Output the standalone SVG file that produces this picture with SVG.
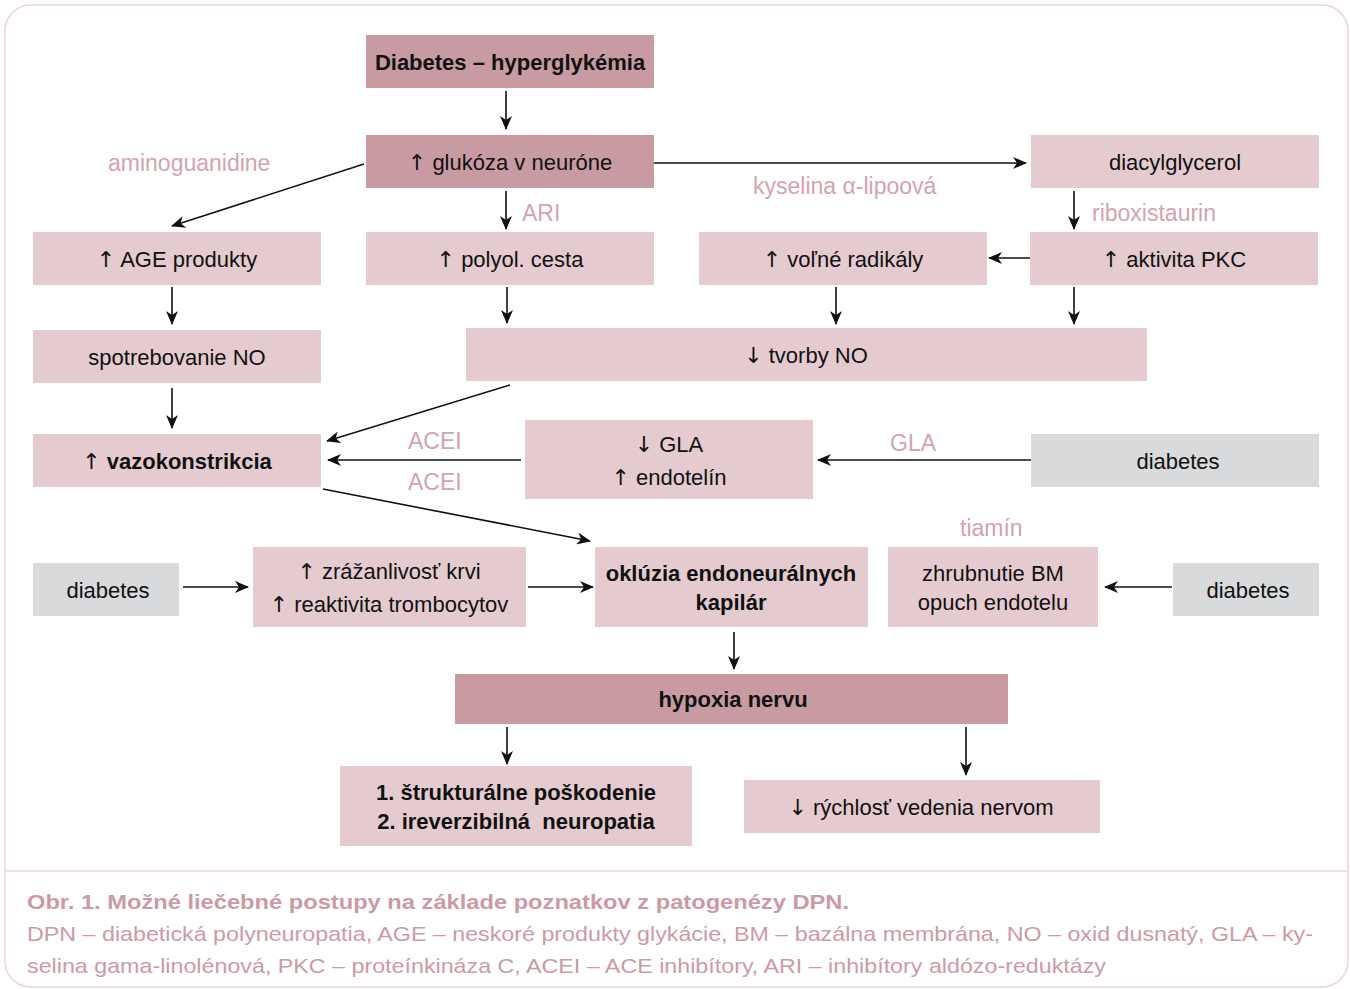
<svg xmlns="http://www.w3.org/2000/svg" width="1350" height="989" viewBox="0 0 1350 989">
<style>
.dark{fill:#c89ba3}
.light{fill:#e5cbd0}
.gray{fill:#d9dadc}
text{font-family:"Liberation Sans",Arial,sans-serif;font-size:22px;fill:#111;text-anchor:middle}
.b{font-weight:bold}
.ar{font-family:"DejaVu Sans",sans-serif;font-weight:normal;font-size:22px}
.lab{fill:#d3a3ae;text-anchor:start;font-size:23px}
.cap{fill:#cc9aa5;text-anchor:start;font-size:21px}
.con{stroke:#111;stroke-width:1.6;fill:none;marker-end:url(#ah)}
</style>
<defs>
<marker id="ah" markerWidth="14" markerHeight="12" refX="13" refY="6" orient="auto" markerUnits="userSpaceOnUse">
<path d="M0,0 L14,6 L0,12 L4,6 z" fill="#111"/>
</marker>
</defs>
<rect x="5" y="5" width="1343" height="982" rx="26" fill="#fff" stroke="#ecd3d9" stroke-width="1.5"/>
<line x1="5" y1="871" x2="1348" y2="871" stroke="#ecd3d9" stroke-width="1.5"/>

<g id="n-diabetes-hyper"><rect class="dark" x="366" y="35" width="288" height="53"/><text class="b" x="510" y="70">Diabetes – hyperglykémia</text></g>
<g id="n-glukoza"><rect class="dark" x="366" y="135" width="288" height="53"/><text x="510" y="170"><tspan class="ar">↑</tspan> glukóza v neuróne</text></g>
<g id="n-diacyl"><rect class="light" x="1031" y="135" width="288" height="53"/><text x="1175" y="170">diacylglycerol</text></g>
<g id="n-age"><rect class="light" x="33" y="232" width="288" height="53"/><text x="177" y="267"><tspan class="ar">↑</tspan> AGE produkty</text></g>
<g id="n-polyol"><rect class="light" x="366" y="232" width="288" height="53"/><text x="510" y="267"><tspan class="ar">↑</tspan> polyol. cesta</text></g>
<g id="n-radikaly"><rect class="light" x="699" y="232" width="288" height="53"/><text x="843" y="267"><tspan class="ar">↑</tspan> voľné radikály</text></g>
<g id="n-pkc"><rect class="light" x="1030" y="232" width="288" height="53"/><text x="1174" y="267"><tspan class="ar">↑</tspan> aktivita PKC</text></g>
<g id="n-spotreb"><rect class="light" x="33" y="330" width="288" height="53"/><text x="177" y="365">spotrebovanie NO</text></g>
<g id="n-tvorby"><rect class="light" x="466" y="328" width="681" height="53"/><text x="806" y="363"><tspan class="ar">↓</tspan> tvorby NO</text></g>
<g id="n-vazo"><rect class="light" x="33" y="434" width="288" height="53"/><text x="177" y="469"><tspan class="ar">↑</tspan> <tspan class="b">vazokonstrikcia</tspan></text></g>
<g id="n-gla"><rect class="light" x="525" y="420" width="288" height="79"/><text x="669" y="452"><tspan class="ar">↓</tspan> GLA</text><text x="669" y="485"><tspan class="ar">↑</tspan> endotelín</text></g>
<g id="n-diab1"><rect class="gray" x="1031" y="434" width="288" height="53"/><text x="1178" y="469">diabetes</text></g>
<g id="n-diab2"><rect class="gray" x="33" y="563" width="146" height="53"/><text x="108" y="598">diabetes</text></g>
<g id="n-zraz"><rect class="light" x="253" y="547" width="273" height="80"/><text x="389" y="579"><tspan class="ar">↑</tspan> zrážanlivosť krvi</text><text x="389" y="612"><tspan class="ar">↑</tspan> reaktivita trombocytov</text></g>
<g id="n-okluzia"><rect class="light" x="595" y="547" width="273" height="80"/><text class="b" x="731" y="581">oklúzia endoneurálnych</text><text class="b" x="731" y="610">kapilár</text></g>
<g id="n-zhrub"><rect class="light" x="888" y="547" width="210" height="80"/><text x="993" y="581">zhrubnutie BM</text><text x="993" y="610">opuch endotelu</text></g>
<g id="n-diab3"><rect class="gray" x="1173" y="563" width="146" height="53"/><text x="1248" y="598">diabetes</text></g>
<g id="n-hypoxia"><rect class="dark" x="455" y="674" width="553" height="50"/><text class="b" x="733" y="707">hypoxia nervu</text></g>
<g id="n-struk"><rect class="light" x="340" y="766" width="352" height="80"/><text class="b" x="516" y="800">1. štrukturálne poškodenie</text><text class="b" x="516" y="829" style="white-space:pre">2. ireverzibilná  neuropatia</text></g>
<g id="n-rychlost"><rect class="light" x="744" y="780" width="356" height="53"/><text x="921" y="815"><tspan class="ar">↓</tspan> rýchlosť vedenia nervom</text></g>

<g id="labels">
<text class="lab" x="108" y="171">aminoguanidine</text>
<text class="lab" x="753" y="194">kyselina α-lipoová</text>
<text class="lab" x="522" y="221">ARI</text>
<text class="lab" x="1092" y="221">riboxistaurin</text>
<text class="lab" x="408" y="449">ACEI</text>
<text class="lab" x="408" y="490">ACEI</text>
<text class="lab" x="890" y="451">GLA</text>
<text class="lab" x="960" y="536">tiamín</text>
</g>

<g id="connectors">
<line class="con" x1="506" y1="91" x2="506" y2="129"/>
<line class="con" x1="654" y1="163" x2="1026" y2="163"/>
<line class="con" x1="364" y1="164" x2="172" y2="226"/>
<line class="con" x1="506" y1="191" x2="506" y2="229"/>
<line class="con" x1="1074" y1="191" x2="1074" y2="229"/>
<line class="con" x1="1030" y1="258" x2="989" y2="258"/>
<line class="con" x1="172" y1="287" x2="172" y2="324"/>
<line class="con" x1="507" y1="287" x2="507" y2="323"/>
<line class="con" x1="836" y1="287" x2="836" y2="324"/>
<line class="con" x1="1074" y1="287" x2="1074" y2="324"/>
<line class="con" x1="172" y1="388" x2="172" y2="428"/>
<line class="con" x1="510" y1="385" x2="327" y2="441"/>
<line class="con" x1="521" y1="460" x2="328" y2="460"/>
<line class="con" x1="1031" y1="460" x2="818" y2="460"/>
<line class="con" x1="323" y1="489" x2="590" y2="541"/>
<line class="con" x1="183" y1="587" x2="248" y2="587"/>
<line class="con" x1="528" y1="587" x2="593" y2="587"/>
<line class="con" x1="1172" y1="587" x2="1105" y2="587"/>
<line class="con" x1="734" y1="632" x2="734" y2="669"/>
<line class="con" x1="507" y1="727" x2="507" y2="764"/>
<line class="con" x1="966" y1="727" x2="966" y2="775"/>
</g>

<g id="caption">
<text class="cap b" x="27" y="909" textLength="822" lengthAdjust="spacingAndGlyphs">Obr. 1. Možné liečebné postupy na základe poznatkov z patogenézy DPN.</text>
<text class="cap" x="27" y="941" textLength="1286" lengthAdjust="spacingAndGlyphs">DPN – diabetická polyneuropatia, AGE – neskoré produkty glykácie, BM – bazálna membrána, NO – oxid dusnatý, GLA – ky-</text>
<text class="cap" x="27" y="973" textLength="1079" lengthAdjust="spacingAndGlyphs">selina gama-linolénová, PKC – proteínkináza C, ACEI – ACE inhibítory, ARI – inhibítory aldózo-reduktázy</text>
</g>
</svg>
